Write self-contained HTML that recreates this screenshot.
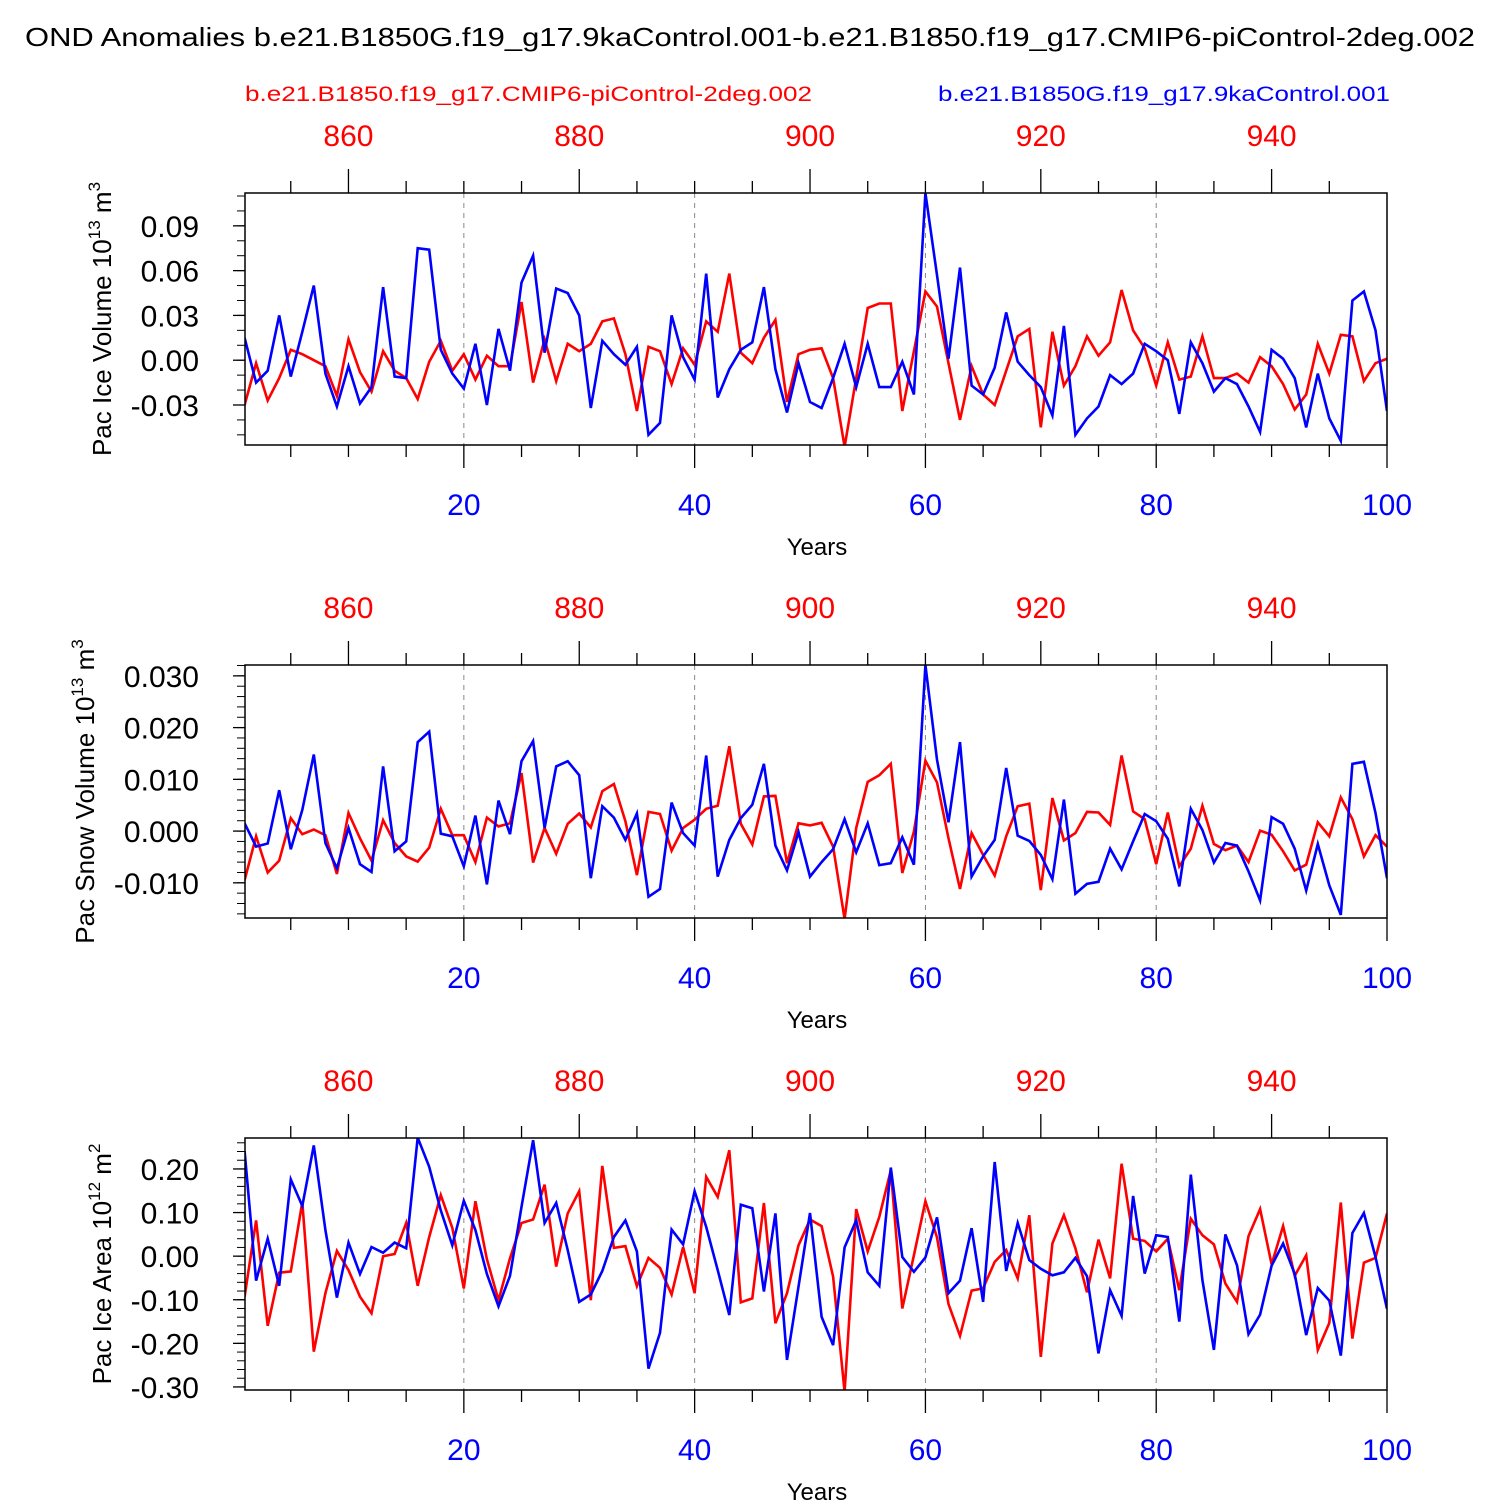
<!DOCTYPE html>
<html><head><meta charset="utf-8"><style>
html,body{margin:0;padding:0;background:#fff;}
svg{display:block;font-family:"Liberation Sans",Arial,sans-serif;}
</style></head><body>
<svg id="chart" width="1500" height="1500" viewBox="0 0 1500 1500" xmlns="http://www.w3.org/2000/svg">
<rect width="1500" height="1500" fill="#fff"/>
<text x="750" y="46" font-size="26" text-anchor="middle" textLength="1450" lengthAdjust="spacingAndGlyphs">OND Anomalies b.e21.B1850G.f19_g17.9kaControl.001-b.e21.B1850.f19_g17.CMIP6-piControl-2deg.002</text>
<text x="245" y="101" font-size="21" fill="#ff0000" textLength="567" lengthAdjust="spacingAndGlyphs">b.e21.B1850.f19_g17.CMIP6-piControl-2deg.002</text>
<text x="938" y="101" font-size="21" fill="#0000ff" textLength="452" lengthAdjust="spacingAndGlyphs">b.e21.B1850G.f19_g17.9kaControl.001</text>
</svg>
<script>
const years = Array.from({length:100},(_,i)=>i+1);
const bottomTicks = [20,40,60,80,100];
const topTicks = [860,880,900,920,940];
const yearOffset = 850;

const iceVolBlue = [0.015,-0.015,-0.007,0.030,-0.011,0.019,0.050,-0.009,-0.031,-0.004,-0.029,-0.018,0.049,-0.011,-0.012,0.075,0.074,0.007,-0.009,-0.019,0.011,-0.030,0.021,-0.007,0.052,0.070,0.005,0.048,0.045,0.030,-0.032,0.013,0.004,-0.003,0.009,-0.050,-0.042,0.030,0.002,-0.013,0.058,-0.025,-0.006,0.007,0.012,0.049,-0.006,-0.035,-0.002,-0.028,-0.032,-0.012,0.011,-0.018,0.011,-0.018,-0.018,-0.001,-0.023,0.112,0.057,0.001,0.062,-0.017,-0.023,-0.005,0.032,-0.001,-0.010,-0.018,-0.037,0.023,-0.050,-0.039,-0.031,-0.010,-0.016,-0.009,0.011,0.006,0.000,-0.036,0.012,-0.002,-0.021,-0.012,-0.016,-0.031,-0.048,0.007,0.001,-0.012,-0.045,-0.009,-0.039,-0.054,0.040,0.046,0.020,-0.034];
const iceVolRed = [-0.030,-0.002,-0.027,-0.012,0.007,0.004,0.000,-0.004,-0.024,0.014,-0.008,-0.021,0.006,-0.007,-0.012,-0.026,-0.001,0.013,-0.007,0.004,-0.013,0.003,-0.004,-0.004,0.039,-0.015,0.014,-0.014,0.011,0.006,0.011,0.026,0.028,0.004,-0.034,0.009,0.006,-0.016,0.008,-0.003,0.026,0.019,0.058,0.005,-0.002,0.015,0.027,-0.028,0.004,0.007,0.008,-0.012,-0.058,-0.012,0.035,0.038,0.038,-0.034,0.006,0.046,0.036,-0.002,-0.040,-0.004,-0.023,-0.030,-0.007,0.016,0.021,-0.045,0.019,-0.017,-0.004,0.016,0.003,0.012,0.047,0.020,0.008,-0.017,0.012,-0.013,-0.011,0.016,-0.012,-0.012,-0.009,-0.015,0.002,-0.004,-0.016,-0.033,-0.023,0.011,-0.009,0.017,0.016,-0.014,-0.002,0.001];

const snowBlue = [0.0015,-0.003,-0.0024,0.0079,-0.0035,0.0041,0.0148,-0.0023,-0.0072,0.0006,-0.0064,-0.0079,0.0125,-0.0039,-0.002,0.0172,0.0192,-0.0005,-0.001,-0.0068,0.003,-0.0103,0.0059,-0.0006,0.0135,0.0174,0.0006,0.0125,0.0135,0.0108,-0.0091,0.0048,0.0026,-0.0017,0.0034,-0.0127,-0.0112,0.0055,-0.0004,-0.0028,0.0146,-0.0088,-0.0017,0.0025,0.0051,0.013,-0.0028,-0.0076,-0.0002,-0.0088,-0.006,-0.0035,0.0023,-0.0041,0.0015,-0.0066,-0.0062,-0.0012,-0.0065,0.0321,0.0138,0.0017,0.0172,-0.0088,-0.0049,-0.0017,0.0122,-0.0009,-0.0019,-0.0046,-0.0093,0.0061,-0.0121,-0.0102,-0.0098,-0.0034,-0.0074,-0.002,0.0033,0.0019,-0.0015,-0.0107,0.0043,0.0002,-0.0061,-0.0023,-0.0028,-0.0078,-0.0134,0.0027,0.0014,-0.0034,-0.0115,-0.0025,-0.0105,-0.0162,0.013,0.0134,0.0035,-0.0091];
const snowRed = [-0.0095,-0.001,-0.008,-0.0057,0.0025,-0.0006,0.0003,-0.0008,-0.0083,0.0035,-0.0014,-0.0057,0.0021,-0.0023,-0.0049,-0.0059,-0.0032,0.0043,-0.0008,-0.0008,-0.006,0.0026,0.0009,0.0015,0.0112,-0.0061,0.0006,-0.0044,0.0014,0.0034,0.0007,0.0077,0.0091,0.0019,-0.0085,0.0037,0.0033,-0.0038,0.0006,0.0022,0.0043,0.0049,0.0164,0.0014,-0.0026,0.0067,0.0068,-0.0062,0.0015,0.0011,0.0016,-0.003,-0.017,0.0006,0.0095,0.0108,0.013,-0.0081,-0.0001,0.0136,0.0094,-0.0014,-0.0112,-0.0004,-0.0046,-0.0086,-0.001,0.0048,0.0053,-0.0114,0.0064,-0.0018,-0.0004,0.0037,0.0036,0.0012,0.0146,0.0038,0.0023,-0.0064,0.0036,-0.0068,-0.0034,0.0049,-0.0025,-0.0037,-0.0028,-0.006,0.0001,-0.0007,-0.0039,-0.0076,-0.0065,0.0017,-0.001,0.0065,0.0023,-0.0049,-0.0008,-0.003];

const areaBlue = [0.241,-0.056,0.040,-0.068,0.176,0.115,0.254,0.06,-0.095,0.031,-0.041,0.021,0.008,0.031,0.018,0.272,0.205,0.105,0.025,0.127,0.060,-0.041,-0.115,-0.045,0.113,0.266,0.076,0.122,0.014,-0.105,-0.088,-0.034,0.044,0.082,0.011,-0.258,-0.176,0.061,0.027,0.149,0.067,-0.032,-0.135,0.118,0.110,-0.081,0.098,-0.238,-0.07,0.099,-0.139,-0.204,0.020,0.082,-0.037,-0.068,0.203,-0.002,-0.036,-0.003,0.089,-0.085,-0.056,0.064,-0.105,0.216,-0.034,0.076,-0.009,-0.029,-0.044,-0.037,-0.004,-0.046,-0.223,-0.078,-0.137,0.138,-0.040,0.048,0.044,-0.150,0.187,-0.055,-0.215,0.050,-0.021,-0.179,-0.134,-0.022,0.029,-0.041,-0.181,-0.073,-0.102,-0.228,0.053,0.099,-0.002,-0.121];
const areaRed = [-0.093,0.082,-0.160,-0.038,-0.035,0.124,-0.219,-0.085,0.012,-0.032,-0.093,-0.131,0.000,0.005,0.076,-0.068,0.044,0.140,0.065,-0.074,0.126,-0.007,-0.101,-0.005,0.076,0.084,0.164,-0.024,0.098,0.149,-0.101,0.207,0.019,0.023,-0.069,-0.004,-0.027,-0.088,0.021,-0.085,0.182,0.136,0.243,-0.106,-0.097,0.122,-0.154,-0.085,0.025,0.084,0.069,-0.047,-0.311,0.108,0.011,0.090,0.197,-0.120,0.002,0.126,0.043,-0.110,-0.183,-0.079,-0.074,-0.013,0.014,-0.051,0.094,-0.231,0.029,0.094,0.018,-0.083,0.038,-0.051,0.212,0.040,0.035,0.011,0.040,-0.078,0.086,0.048,0.027,-0.063,-0.105,0.046,0.108,-0.019,0.069,-0.045,0.002,-0.215,-0.153,0.123,-0.189,-0.015,-0.004,0.098];

const iceVolTicks = [-0.03,0.00,0.03,0.06,0.09];
const iceVolTickLabels = ["-0.03","0.00","0.03","0.06","0.09"];
const snowTicks = [-0.01,0,0.01,0.02,0.03];
const snowTickLabels = ["-0.010","0.000","0.010","0.020","0.030"];
const areaTicks = [-0.3,-0.2,-0.1,0,0.1,0.2];
const areaTickLabels = ["-0.30","-0.20","-0.10","0.00","0.10","0.20"];

const svg = document.getElementById('chart');
const NS = 'http://www.w3.org/2000/svg';
function mk(tag, attrs, parent){
  const e = document.createElementNS(NS, tag);
  for (const k in attrs) e.setAttribute(k, attrs[k]);
  (parent||svg).appendChild(e);
  return e;
}
const X0 = 244.6, X1 = 1387;
function xs(yr){ return X0 + (yr-1)*(X1-X0)/99; }

function panel(cfg){
  const g = mk('g', {});
  
  
  const top = cfg.top, bot = cfg.bot;
  const ys = v => bot - (v - cfg.ymin)/(cfg.ymax - cfg.ymin)*(bot-top);
  [20,40,60,80].forEach(yr=>{
    const l = mk('line',{x1:xs(yr),x2:xs(yr),y1:top,y2:bot,stroke:'#888','stroke-width':1,'stroke-dasharray':'5,5'},g);
    
    
  });
  for (let v = Math.ceil(cfg.ymin/cfg.minor)*cfg.minor; v <= cfg.ymax; v += cfg.minor){
    const y = ys(v);
    mk('line',{x1:237,x2:245,y1:y,y2:y,stroke:'#000','stroke-width':1},g);
  }
  cfg.ticks.forEach((v,i)=>{
    const y = ys(v);
    mk('line',{x1:233,x2:245,y1:y,y2:y,stroke:'#000','stroke-width':1.3},g);
    const t = mk('text',{x:199,y:y+11,'font-size':30,'text-anchor':'end'},g);
    t.textContent = cfg.labels[i];
    
    
  });
  for (let yr=5; yr<=100; yr+=5){
    const x = xs(yr), major = yr%20===0;
    mk('line',{x1:x,x2:x,y1:bot,y2:bot+(major?23:12),stroke:'#000','stroke-width':1.3},g);
  }
  bottomTicks.forEach(yr=>{
    const t = mk('text',{x:xs(yr),y:bot+70,'font-size':30,'text-anchor':'middle',fill:'#0000ff'},g);
    t.textContent = yr;
    
    
  });
  for (let ry=855; ry<=945; ry+=5){
    const x = xs(ry-yearOffset), major = ry%20===0;
    mk('line',{x1:x,x2:x,y1:top,y2:top-(major?24:12),stroke:'#000','stroke-width':1.3},g);
  }
  topTicks.forEach(ry=>{
    const t = mk('text',{x:xs(ry-yearOffset),y:top-47,'font-size':30,'text-anchor':'middle',fill:'#ff0000'},g);
    t.textContent = ry;
    
    
  });
  const xt = mk('text',{x:817,y:bot+110,'font-size':24,'text-anchor':'middle'},g);
  xt.textContent = 'Years';
  
  
  const yt = mk('text',{x:0,y:0,'font-size':26,'text-anchor':'middle',transform:`translate(${cfg.ytx},${(top+bot)/2}) rotate(-90)`},g);
  yt.innerHTML = cfg.ytitle + ' 10<tspan dy="-11" font-size="17">' + cfg.exp + '</tspan><tspan dy="11"> m</tspan><tspan dy="-11" font-size="17">' + cfg.pow + '</tspan>';
  
  
  const clipId = 'clip-'+cfg.name;
  const cp = mk('clipPath',{id:clipId},g);
  mk('rect',{x:245,y:top,width:X1-245,height:bot-top},cp);
  [[cfg.red,'#ff0000','red-series-line'],[cfg.blue,'#0000ff','blue-series-line']].forEach(([arr,col,nm])=>{
    const d = arr.map((v,i)=>(i?'L':'M')+xs(years[i]).toFixed(1)+','+ys(v).toFixed(1)).join('');
    const p = mk('path',{d:d,fill:'none',stroke:col,'stroke-width':2.6,'stroke-linejoin':'miter','clip-path':`url(#${clipId})`},g);
    
    
  });
  const fr = mk('rect',{x:245,y:top,width:X1-245,height:bot-top,fill:'none',stroke:'#000','stroke-width':1.5},g);
  
  
}

panel({name:'ice-volume-panel',top:193,bot:445,ymin:-0.0568,ymax:0.112,minor:0.01,ticks:iceVolTicks,labels:iceVolTickLabels,blue:iceVolBlue,red:iceVolRed,ytitle:'Pac Ice Volume',exp:'13',pow:'3',ytx:111});
panel({name:'snow-volume-panel',top:665,bot:918,ymin:-0.0168,ymax:0.0321,minor:0.002,ticks:snowTicks,labels:snowTickLabels,blue:snowBlue,red:snowRed,ytitle:'Pac Snow Volume',exp:'13',pow:'3',ytx:94});
panel({name:'ice-area-panel',top:1138,bot:1390,ymin:-0.307,ymax:0.271,minor:0.02,ticks:areaTicks,labels:areaTickLabels,blue:areaBlue,red:areaRed,ytitle:'Pac Ice Area',exp:'12',pow:'2',ytx:111});
</script>
</body></html>
